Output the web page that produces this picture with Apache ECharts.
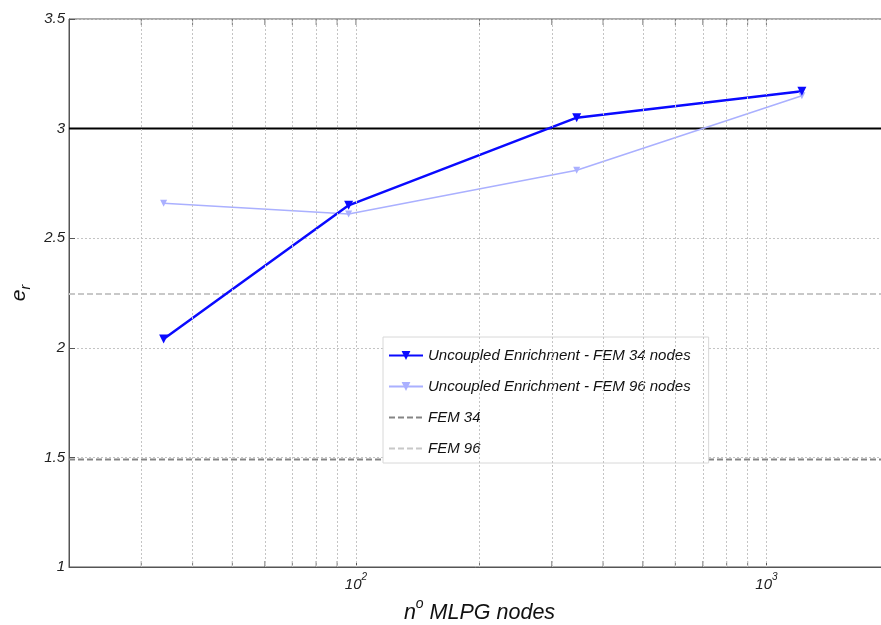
<!DOCTYPE html>
<html><head><meta charset="utf-8">
<script src="https://cdn.jsdelivr.net/npm/echarts@6/dist/echarts.min.js"></script>
<style>html,body{margin:0;padding:0;background:#fff;overflow:hidden}#c{width:881px;height:625px}</style>
</head><body><div id="c"></div>
<script>
// ---- data ----
const nodes = [34, 96, 345, 1220];
const fem34Enrich = [2.04, 2.65, 3.05, 3.17];
const fem96Enrich = [2.66, 2.61, 2.81, 3.15];
const fem34Ref = 1.49;
const fem96Ref = 2.245;
const exactRef = 3.0;
const xRange = [20, 2000];
const yRange = [1, 3.5];
const yStep = 0.5;
const xGridMinor = [30, 40, 50, 60, 70, 80, 90, 200, 300, 400, 500, 600, 700, 800, 900];
const xGridMajor = [100, 1000];
const names = ['Uncoupled Enrichment - FEM 34 nodes', 'Uncoupled Enrichment - FEM 96 nodes', 'FEM 34', 'FEM 96'];

const FONT = 'Liberation Sans';
const chart = echarts.init(document.getElementById('c'), null, {renderer: 'canvas'});
const pair = v => nodes.map((x, i) => [x, v[i]]);
const hline = y => [[xRange[0], y], [xRange[1], y]];
const allTicks = xGridMinor.concat(xGridMajor);

chart.setOption({
  animation: false,
  grid: {left: 69, top: 19, width: 821, height: 548, outerBoundsMode: 'none', containLabel: false,
    show: true, borderColor: '#555', borderWidth: 1, backgroundColor: 'transparent'},
  xAxis: {
    type: 'log', logBase: 10, min: xRange[0], max: xRange[1],
    name: '{n|n}{o|o}{t| MLPG nodes}', nameLocation: 'middle', nameGap: 14,
    nameTextStyle: {rich: {
      n: {fontFamily: FONT, fontStyle: 'italic', fontSize: 21.5, color: '#111', lineHeight: 27, verticalAlign: 'bottom'},
      o: {fontFamily: FONT, fontStyle: 'italic', fontSize: 14, color: '#111', lineHeight: 14, verticalAlign: 'top'},
      t: {fontFamily: FONT, fontStyle: 'italic', fontSize: 21.5, color: '#111', lineHeight: 27, verticalAlign: 'bottom'}
    }},
    axisLine: {lineStyle: {color: '#555'}},
    axisTick: {inside: true, length: 6, lineStyle: {color: '#555'}},
    axisLabel: {
      margin: 5,
      formatter: v => {
        const e = Math.log10(v);
        if (Math.abs(e - Math.round(e)) > 1e-6 || (Math.round(e) !== 2 && Math.round(e) !== 3)) return '';
        return '{b|10}{s|' + Math.round(e) + '}';
      },
      rich: {
        b: {fontFamily: FONT, fontStyle: 'italic', fontSize: 15, color: '#222', lineHeight: 20, verticalAlign: 'bottom'},
        s: {fontFamily: FONT, fontStyle: 'italic', fontSize: 10, color: '#222', lineHeight: 12, verticalAlign: 'top'}
      }
    },
    splitLine: {show: false}
  },
  yAxis: {
    type: 'value', min: yRange[0], max: yRange[1], interval: yStep,
    name: '{e|e}{r|r}', nameLocation: 'middle', nameRotate: 90, nameGap: 34,
    nameTextStyle: {rich: {
      e: {fontFamily: FONT, fontStyle: 'italic', fontSize: 21, color: '#111', lineHeight: 28, verticalAlign: 'middle'},
      r: {fontFamily: FONT, fontStyle: 'italic', fontSize: 14, color: '#111', lineHeight: 14, verticalAlign: 'bottom'}
    }},
    axisLine: {show: true, lineStyle: {color: '#555'}},
    axisTick: {inside: true, length: 6, lineStyle: {color: '#555'}},
    axisLabel: {margin: 4, fontFamily: FONT, fontStyle: 'italic', fontSize: 15, color: '#222',
      formatter: v => String(Math.round(v * 10) / 10)},
    splitLine: {show: true, lineStyle: {color: '#c4c4c4', type: [2, 2], width: 1}}
  },
  legend: {
    data: [
      {name: names[0]},
      {name: names[1]},
      {name: names[2], itemStyle: {opacity: 0}},
      {name: names[3], itemStyle: {opacity: 0}}
    ],
    orient: 'vertical', left: 383, top: 337,
    backgroundColor: '#fff', borderColor: '#d8d8d8', borderWidth: 1,
    padding: [11, 18, 7, 5], itemWidth: 34, itemHeight: 11, itemGap: 16,
    textStyle: {fontFamily: FONT, fontStyle: 'italic', fontSize: 15, color: '#111'}
  },
  series: [
    {
      type: 'scatter', name: 'gridlines', silent: true, symbolSize: 0, data: [],
      markLine: {
        silent: true, symbol: ['none', 'none'], label: {show: false},
        lineStyle: {color: '#c4c4c4', type: [2, 2], width: 1},
        data: allTicks.map(v => ({xAxis: v}))
      }
    },
    {
      type: 'scatter', name: 'ticksBottom', silent: true, symbol: 'rect', symbolSize: [1, 6], symbolOffset: [0, -3],
      itemStyle: {color: '#555'}, data: xGridMinor.map(v => [v, yRange[0]])
    },
    {
      type: 'scatter', name: 'ticksTop', silent: true, symbol: 'rect', symbolSize: [1, 6], symbolOffset: [0, 3],
      itemStyle: {color: '#555'}, data: allTicks.map(v => [v, yRange[1]])
    },
    {
      type: 'line', name: names[3], data: hline(fem96Ref), symbol: 'none', silent: true,
      lineStyle: {color: '#c8c8c8', width: 2, type: [6, 3]}, itemStyle: {color: '#c8c8c8'}
    },
    {
      type: 'line', name: names[2], data: hline(fem34Ref), symbol: 'none', silent: true,
      lineStyle: {color: '#858585', width: 2, type: [6, 3]}, itemStyle: {color: '#858585'}
    },
    {
      type: 'line', name: 'exact', data: hline(exactRef), symbol: 'none', silent: true,
      lineStyle: {color: '#000', width: 2}
    },
    {
      type: 'line', name: names[1], data: pair(fem96Enrich),
      symbol: 'triangle', symbolRotate: 180, symbolSize: 7,
      lineStyle: {color: '#aab0ff', width: 1.5}, itemStyle: {color: '#aab0ff'}
    },
    {
      type: 'line', name: names[0], data: pair(fem34Enrich),
      symbol: 'triangle', symbolRotate: 180, symbolSize: 9,
      lineStyle: {color: '#0a0aff', width: 2.5}, itemStyle: {color: '#0a0aff'}
    }
  ]
});
</script></body></html>
